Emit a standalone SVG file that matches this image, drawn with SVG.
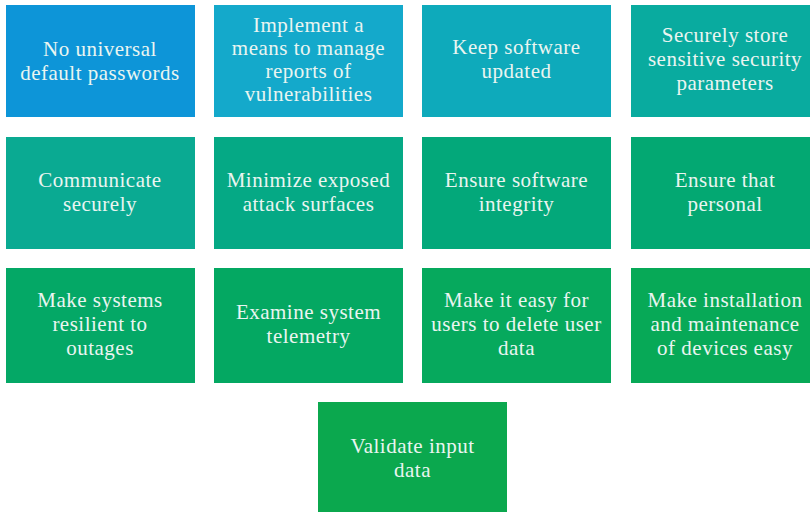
<svg xmlns="http://www.w3.org/2000/svg" width="810" height="512" viewBox="0 0 810 512">
<style>
.b{stroke:none}
.t{font-family:'Liberation Serif','Tinos','Times New Roman','DejaVu Serif',serif;font-size:21px;fill:#eaf5f1;text-anchor:middle;letter-spacing:0.5px}
</style>
<rect width="810" height="512" fill="#ffffff"/>
<g id="n1"><rect class="b" x="6" y="5" width="189" height="112" fill="#0d95d8"/>
<text class="t"><tspan x="100" y="56">No universal</tspan><tspan x="100" y="80">default passwords</tspan></text></g>
<g id="n2"><rect class="b" x="214" y="5" width="189" height="112" fill="#14a9cb"/>
<text class="t"><tspan x="308.5" y="32">Implement a</tspan><tspan x="308.5" y="55">means to manage</tspan><tspan x="308.5" y="78">reports of</tspan><tspan x="308.5" y="101">vulnerabilities</tspan></text></g>
<g id="n3"><rect class="b" x="422" y="5" width="189" height="112" fill="#0eaabb"/>
<text class="t"><tspan x="516.5" y="54">Keep software</tspan><tspan x="516.5" y="78">updated</tspan></text></g>
<g id="n4"><rect class="b" x="631" y="5" width="189" height="112" fill="#09ab9f"/>
<text class="t"><tspan x="725" y="42">Securely store</tspan><tspan x="725" y="66">sensitive security</tspan><tspan x="725" y="90">parameters</tspan></text></g>
<g id="n5"><rect class="b" x="6" y="137" width="189" height="112" fill="#0aaa92"/>
<text class="t"><tspan x="100" y="187">Communicate</tspan><tspan x="100" y="211">securely</tspan></text></g>
<g id="n6"><rect class="b" x="214" y="137" width="189" height="112" fill="#05a985"/>
<text class="t"><tspan x="308.5" y="187">Minimize exposed</tspan><tspan x="308.5" y="211">attack surfaces</tspan></text></g>
<g id="n7"><rect class="b" x="422" y="137" width="189" height="112" fill="#03a87a"/>
<text class="t"><tspan x="516.5" y="187">Ensure software</tspan><tspan x="516.5" y="211">integrity</tspan></text></g>
<g id="n8"><rect class="b" x="631" y="137" width="189" height="112" fill="#03a872"/>
<text class="t"><tspan x="725" y="187">Ensure that</tspan><tspan x="725" y="211">personal</tspan></text></g>
<g id="n9"><rect class="b" x="6" y="268" width="189" height="115" fill="#04a866"/>
<text class="t"><tspan x="100" y="307">Make systems</tspan><tspan x="100" y="331">resilient to</tspan><tspan x="100" y="355">outages</tspan></text></g>
<g id="n10"><rect class="b" x="214" y="268" width="189" height="115" fill="#04a862"/>
<text class="t"><tspan x="308.5" y="319">Examine system</tspan><tspan x="308.5" y="343">telemetry</tspan></text></g>
<g id="n11"><rect class="b" x="422" y="268" width="189" height="115" fill="#06a95d"/>
<text class="t"><tspan x="516.5" y="307">Make it easy for</tspan><tspan x="516.5" y="331">users to delete user</tspan><tspan x="516.5" y="355">data</tspan></text></g>
<g id="n12"><rect class="b" x="631" y="268" width="189" height="115" fill="#07a957"/>
<text class="t"><tspan x="725" y="307">Make installation</tspan><tspan x="725" y="331">and maintenance</tspan><tspan x="725" y="355">of devices easy</tspan></text></g>
<g id="n13"><rect class="b" x="318" y="402" width="189" height="115" fill="#0ba84e"/>
<text class="t"><tspan x="412.5" y="453">Validate input</tspan><tspan x="412.5" y="477">data</tspan></text></g>
<g id="connectors"></g>
</svg>
